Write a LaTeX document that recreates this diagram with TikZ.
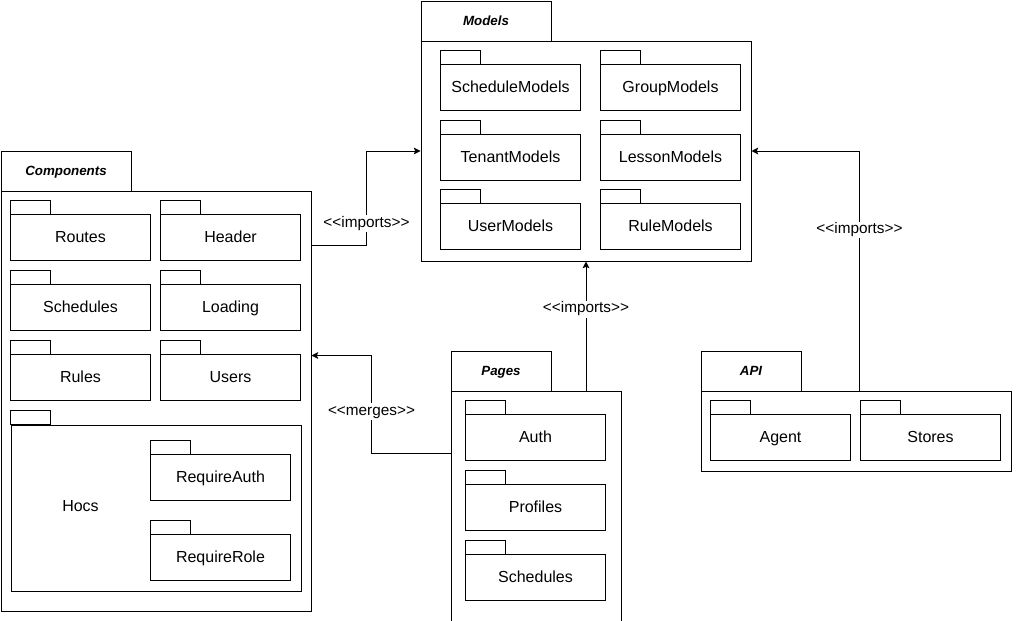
\documentclass[tikz,border=0pt]{standalone}
\usepackage{fontspec}
\setmainfont{Liberation Sans}
\usetikzlibrary{calc,arrows.meta}
\newlength\pxsize
\setlength\pxsize{0.75pt}
\newcommand{\stereo}[1]{<\kern0pt<#1>\kern0pt>}

\tikzset{
  subpkg/.style={draw, line width=0.75pt, minimum width=140\pxsize, minimum height=46\pxsize,
    inner sep=0pt, text height=8.5pt, text depth=1.5pt, font=\fontsize{12}{14}\selectfont},
  pkgbody/.style={draw, line width=0.75pt, anchor=north west, inner sep=0pt},
  pkgtab/.style={draw, line width=0.75pt, anchor=north west, inner sep=0pt,
    minimum height=40\pxsize, text height=8pt, text depth=0.8pt,
    font=\fontsize{10}{12}\selectfont\bfseries\itshape},
  conn/.style={line width=0.75pt, -{Stealth[length=5pt,width=5pt,inset=1pt]}},
  lbl/.style={fill=white, inner sep=1pt, text height=8pt, text depth=2.5pt,
    font=\fontsize{11.5}{13}\selectfont},
}

% small package: name, left x, tab top y, text
\newcommand{\subpkg}[4]{%
  \draw[line width=0.75pt] (#2,#3) rectangle ++(40,14);
  \node[subpkg] (#1) at (#2+70,#3+37) {#4};
}

\begin{document}
\begin{tikzpicture}[x=0.75pt,y=-0.75pt]
  \useasboundingbox (-0.5,-0.5) rectangle (1035.5,620.5);

  % Models
  \node[pkgtab, minimum width=130\pxsize] (modelstab) at (420,0) {Models};
  \node[pkgbody, minimum width=330\pxsize, minimum height=220\pxsize] (models) at (420,40) {};
  \subpkg{schedmodels}{440}{50}{ScheduleModels}
  \subpkg{groupmodels}{600}{50}{GroupModels}
  \subpkg{tenantmodels}{440}{120}{TenantModels}
  \subpkg{lessonmodels}{600}{120}{LessonModels}
  \subpkg{usermodels}{440}{189}{UserModels}
  \subpkg{rulemodels}{600}{189}{RuleModels}

  % Components
  \node[pkgtab, minimum width=130\pxsize] (componentstab) at (0,150) {Components};
  \node[pkgbody, minimum width=310\pxsize, minimum height=420\pxsize] (components) at (0,190) {};
  \subpkg{routes}{10}{200}{Routes}
  \subpkg{header}{160}{200}{Header}
  \subpkg{schedules}{10}{270}{Schedules}
  \subpkg{loading}{160}{270}{Loading}
  \subpkg{rules}{10}{340}{Rules}
  \subpkg{users}{160}{340}{Users}
  \draw[line width=0.75pt] (10,410) rectangle ++(40,14);
  \node[pkgbody, minimum width=290\pxsize, minimum height=166\pxsize] (hocs) at (10,424) {};
  \node[font=\fontsize{12}{14}\selectfont] (hocslbl) at (80,506) {Hocs};
  \subpkg{reqauth}{150}{440}{RequireAuth}
  \subpkg{reqrole}{150}{520}{RequireRole}

  % Pages
  \node[pkgtab, minimum width=100\pxsize] (pagestab) at (450,350) {Pages};
  \node[pkgbody, minimum width=170\pxsize, minimum height=230\pxsize] (pages) at (450,390) {};
  \subpkg{auth}{465}{400}{Auth}
  \subpkg{profiles}{465}{470}{Profiles}
  \subpkg{pageschedules}{465}{540}{Schedules}

  % API
  \node[pkgtab, minimum width=100\pxsize] (apitab) at (700,350) {API};
  \node[pkgbody, minimum width=310\pxsize, minimum height=80\pxsize] (api) at (700,390) {};
  \subpkg{agent}{710}{400}{Agent}
  \subpkg{stores}{860}{400}{Stores}

  % dependencies
  \draw[conn] ($(components.north east)+(0,55)$) -- ++(55,0) |- (models.west)
    node[lbl, pos=0.116] {\stereo{imports}};
  \draw[conn] (models.south |- pages.north) -- (models.south)
    node[lbl, pos=0.63] {\stereo{imports}};
  \draw[conn] ($(pages.north west)+(0,63)$) -- ++(-79,0) |- ($(components.north east)+(0,165)$)
    node[lbl, pos=0.214] {\stereo{merges}};
  \draw[conn] ($(api.north west)+(159,0)$) |- (models.east)
    node[lbl, pos=0.335] {\stereo{imports}};
\end{tikzpicture}
\end{document}
